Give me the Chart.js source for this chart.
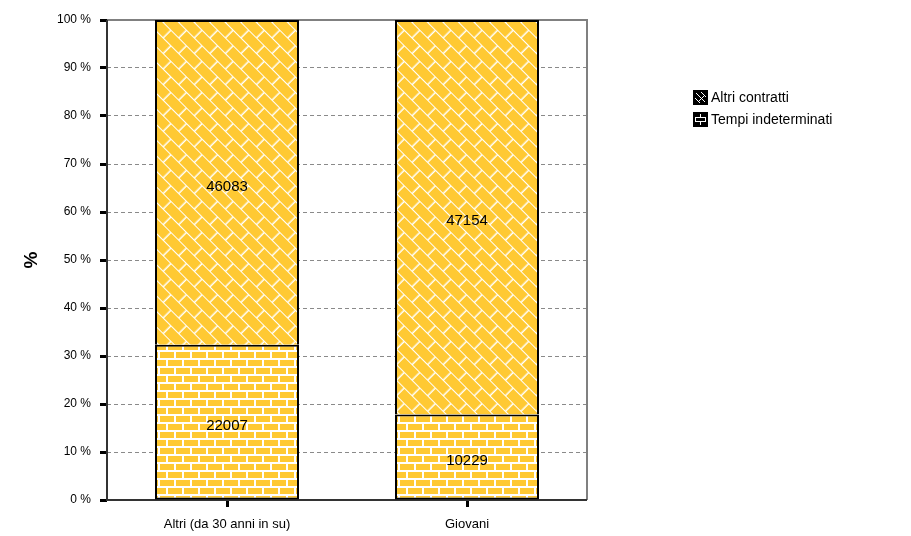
<!DOCTYPE html>
<html>
<head>
<meta charset="utf-8">
<script src="https://cdn.jsdelivr.net/npm/chart.js@4"></script>
<style>
  html, body { margin: 0; padding: 0; background: #fff; }
  #wrap { width: 911px; height: 536px; }
</style>
</head>
<body>
<div id="wrap"><canvas id="chart" width="911" height="536"></canvas></div>
<script>
const categories = ['Altri (da 30 anni in su)', 'Giovani'];
const tempiIndeterminati = [22007, 10229];
const altriContratti = [46083, 47154];
const yTicks = [0, 10, 20, 30, 40, 50, 60, 70, 80, 90, 100];

const totals = categories.map((c, i) => tempiIndeterminati[i] + altriContratti[i]);
const pct = (arr) => arr.map((v, i) => v / totals[i] * 100);

const YELLOW = '#ffc933';

// horizontal bricks
function brickTile(fg, bg) {
    const c = document.createElement('canvas');
    c.width = 16; c.height = 16;
    const g = c.getContext('2d');
    g.fillStyle = bg; g.fillRect(0, 0, 16, 16);
    g.fillStyle = fg;
    g.fillRect(0, 0, 14, 6);
    g.fillRect(8, 8, 14, 6);
    g.fillRect(-8, 8, 14, 6);
    return c;
}

// bricks running diagonally (rotated 45 deg)
function diagTile(fg, bg) {
    const c = document.createElement('canvas');
    c.width = 22; c.height = 22;
    const g = c.getContext('2d');
    g.fillStyle = bg; g.fillRect(0, 0, 22, 22);
    g.fillStyle = fg;
    g.fillRect(0, 0, 20.5, 10);
    g.fillRect(11, 11, 20.5, 10);
    g.fillRect(-11, 11, 20.5, 10);
    return c;
}

const ctx = document.getElementById('chart').getContext('2d');
const brickPattern = ctx.createPattern(brickTile(YELLOW, '#ffffff'), 'repeat');
const diagPattern = ctx.createPattern(diagTile(YELLOW, '#ffffff'), 'repeat');
diagPattern.setTransform(new DOMMatrix().rotate(45));

const valueLabels = {
    id: 'valueLabels',
    afterDatasetsDraw(chart) {
        const c = chart.ctx;
        c.save();
        c.font = '15px "Liberation Sans", Arial, sans-serif';
        c.fillStyle = '#000';
        c.textAlign = 'center';
        c.textBaseline = 'middle';
        chart.data.datasets.forEach((ds, di) => {
            chart.getDatasetMeta(di).data.forEach((bar, i) => {
                c.fillText(ds.counts[i], bar.x, (bar.y + bar.base) / 2 + 4);
            });
        });
        c.restore();
    }
};

const plotFrame = {
    id: 'plotFrame',
    beforeDatasetsDraw(chart) {
        const a = chart.chartArea, c = chart.ctx;
        c.save();
        c.lineWidth = 2;
        c.strokeStyle = '#808080';
        c.beginPath();
        c.moveTo(a.left, a.top); c.lineTo(a.right, a.top); c.lineTo(a.right, a.bottom);
        c.stroke();
        c.strokeStyle = '#333';
        c.beginPath();
        c.moveTo(a.left, a.top); c.lineTo(a.left, a.bottom); c.lineTo(a.right, a.bottom);
        c.stroke();
        c.restore();
    }
};

function legendSwatch(c, x, y, kind) {
    c.fillStyle = '#000';
    c.fillRect(x, y, 15, 15);
    c.strokeStyle = '#fff';
    c.lineWidth = 1;
    c.beginPath();
    if (kind === 'diag') {
        c.moveTo(x + 3, y + 3); c.lineTo(x + 12, y + 12);
        c.moveTo(x + 2, y + 8); c.lineTo(x + 7, y + 13);
        c.moveTo(x + 8, y + 2); c.lineTo(x + 13, y + 7);
        c.moveTo(x + 12, y + 5); c.lineTo(x + 5, y + 12);
    } else {
        c.moveTo(x + 2, y + 5.5); c.lineTo(x + 13, y + 5.5);
        c.moveTo(x + 2, y + 9.5); c.lineTo(x + 13, y + 9.5);
        c.moveTo(x + 7.5, y + 2); c.lineTo(x + 7.5, y + 5);
        c.moveTo(x + 7.5, y + 10); c.lineTo(x + 7.5, y + 13);
        c.moveTo(x + 2.5, y + 5); c.lineTo(x + 2.5, y + 10);
        c.moveTo(x + 12.5, y + 5); c.lineTo(x + 12.5, y + 10);
    }
    c.stroke();
}

const sideLegend = {
    id: 'sideLegend',
    afterDraw(chart) {
        const c = chart.ctx;
        const x = 693;
        c.save();
        c.font = '14px "Liberation Sans", Arial, sans-serif';
        c.fillStyle = '#000';
        c.textBaseline = 'middle';
        const items = [...chart.data.datasets].reverse();
        items.forEach((ds, i) => {
            const y = 90 + i * 22;
            legendSwatch(c, x, y, ds.swatch);
            c.fillStyle = '#000';
            c.fillText(ds.label, x + 18, y + 8);
        });
        c.restore();
    }
};

new Chart(ctx, {
    type: 'bar',
    data: {
        labels: categories,
        datasets: [{
            label: 'Tempi indeterminati',
            data: pct(tempiIndeterminati),
            counts: tempiIndeterminati,
            swatch: 'brick',
            backgroundColor: brickPattern,
            borderColor: '#000',
            borderWidth: { left: 2, right: 2, bottom: 2, top: 2 },
            borderSkipped: false,
            barPercentage: 0.6,
            categoryPercentage: 1.0
        }, {
            label: 'Altri contratti',
            data: pct(altriContratti),
            counts: altriContratti,
            swatch: 'diag',
            backgroundColor: diagPattern,
            borderColor: '#000',
            borderWidth: { left: 2, right: 2, top: 2, bottom: 0 },
            borderSkipped: false,
            barPercentage: 0.6,
            categoryPercentage: 1.0
        }]
    },
    options: {
        responsive: false,
        animation: false,
        layout: { padding: { top: 20, right: 324, left: 0, bottom: 0 } },
        plugins: {
            legend: { display: false },
            tooltip: { enabled: false }
        },
        scales: {
            x: {
                stacked: true,
                afterFit: (s) => { s.height = 36; },
                grid: {
                    offset: false,
                    drawOnChartArea: false,
                    drawTicks: true,
                    tickLength: 7,
                    tickWidth: 3,
                    tickColor: '#000'
                },
                border: { display: false },
                ticks: {
                    color: '#000',
                    padding: 10,
                    font: { family: '"Liberation Sans", Arial, sans-serif', size: 13 }
                }
            },
            y: {
                stacked: true,
                min: 0,
                max: 100,
                afterFit: (s) => { s.width = 107; },
                afterBuildTicks: (s) => { s.ticks = yTicks.map(v => ({ value: v })); },
                grid: {
                    color: '#8a8a8a',
                    lineWidth: 1,
                    drawTicks: true,
                    tickLength: 7,
                    tickWidth: 3,
                    tickColor: '#000',
                    tickBorderDash: []
                },
                border: { display: false, dash: [4, 3] },
                ticks: {
                    color: '#000',
                    padding: 9,
                    callback: (v) => v + ' %',
                    font: { family: '"Liberation Sans", Arial, sans-serif', size: 12 }
                },
                title: {
                    display: true,
                    text: '%',
                    color: '#000',
                    padding: { top: 20, bottom: 0 },
                    font: { family: '"Liberation Sans", Arial, sans-serif', size: 19, weight: 'bold' }
                }
            }
        }
    },
    plugins: [plotFrame, valueLabels, sideLegend]
});
</script>
</body>
</html>
